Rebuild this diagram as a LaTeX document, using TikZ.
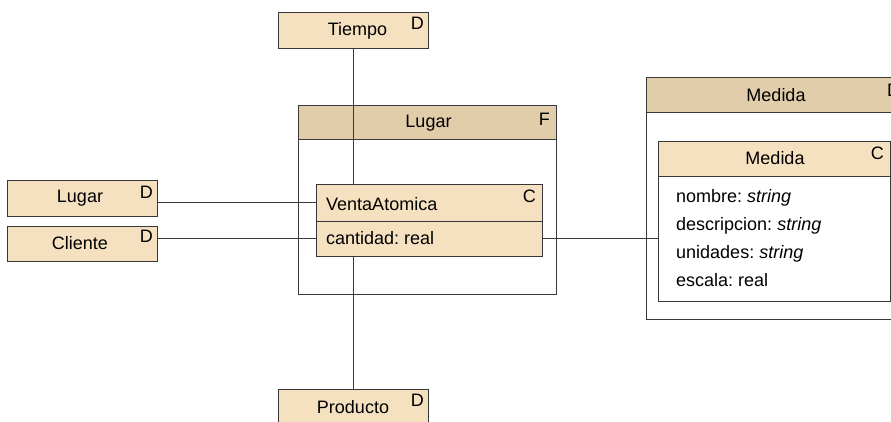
\documentclass[tikz,border=0pt]{standalone}
\usepackage{fontspec}
\setmainfont{Liberation Sans}
\frenchspacing
\definecolor{tanl}{HTML}{F5E1C0}
\definecolor{tand}{HTML}{E1CDAA}
\definecolor{linec}{HTML}{383838}
\tikzset{
  box/.style={draw=linec, line width=1pt, rectangle, inner sep=0pt, outer sep=0pt, anchor=north west},
  light/.style={box, fill=tanl},
  dark/.style={box, fill=tand},
  plain/.style={box, fill=white},
  lbl/.style={inner sep=0pt, text=black},
  tag/.style={inner sep=0pt, anchor=north east, text=black},
  conn/.style={draw=linec, line width=1pt}
}
\begin{document}
\begin{tikzpicture}[x=1pt,y=-1pt, font=\fontsize{18}{21}\selectfont]
\useasboundingbox (0,0) rectangle (891,421);
% fact container Lugar F
\node[plain, minimum width=258, minimum height=189] (lugarF) at (298,105) {};
\node[dark, minimum width=258, minimum height=34] (lugarFh) at (298,105) {};
\node[lbl] (lugarFt) at (428.5,123.5) {Lugar};
\node[tag] (lugarFtag) at ([xshift=-6,yshift=-8]lugarFh.north east) {F};
% Medida container
\node[plain, minimum width=254, minimum height=242] (medO) at (646,77) {};
\node[dark, minimum width=254, minimum height=35] (medOh) at (646,77) {};
\node[lbl] (medOt) at (776,95) {Medida};
\node[lbl, anchor=north west] (medOtag) at (887,84) {D};
% inner Medida class
\node[plain, minimum width=232, minimum height=160] (medI) at (658,141) {};
\node[light, minimum width=232, minimum height=35] (medIh) at (658,141) {};
\node[lbl] (medIt) at (775,158.5) {Medida};
\node[tag] (medItag) at ([xshift=-6,yshift=-6]medIh.north east) {C};
\node[lbl, anchor=base west] (a1) at (676,202) {nombre: \textit{string}};
\node[lbl, anchor=base west] (a2) at (676,230) {descripcion: \textit{string}};
\node[lbl, anchor=base west] (a3) at (676,258.5) {unidades: \textit{string}};
\node[lbl, anchor=base west] (a4) at (676,286.5) {escala: real};
% dimension boxes
\node[light, minimum width=150, minimum height=36] (tiempo) at (278,12) {};
\node[lbl] (tiempot) at (357.5,30.5) {Tiempo};
\node[tag] (tiempotag) at ([xshift=-4,yshift=-5]tiempo.north east) {D};
\node[light, minimum width=150, minimum height=40] (producto) at (278,389) {};
\node[lbl] (productot) at (353,407.5) {Producto};
\node[tag] (productotag) at ([xshift=-4,yshift=-5]producto.north east) {D};
\node[light, minimum width=150, minimum height=36] (lugarL) at (7,180) {};
\node[lbl] (lugarLt) at (80,198.5) {Lugar};
\node[tag] (lugarLtag) at ([xshift=-4,yshift=-6]lugarL.north east) {D};
\node[light, minimum width=150, minimum height=35] (cliente) at (7,226) {};
\node[lbl] (clientet) at (80,243.5) {Cliente};
\node[tag] (clientetag) at ([xshift=-4,yshift=-4]cliente.north east) {D};
% vertical connector (behind VentaAtomica)
\draw[conn] (tiempo.south) -- (producto.north);
% VentaAtomica
\node[light, minimum width=226, minimum height=37] (vhead) at (316,184) {};
\node[light, minimum width=226, minimum height=35] (vattr) at (316,221) {};
\node[lbl, anchor=base west] (vheadt) at (326,210) {VentaAtomica};
\node[tag] (vtag) at ([xshift=-6,yshift=-6]vhead.north east) {C};
\node[lbl, anchor=base west] (vattrt) at (326,244.5) {cantidad: real};
% connectors
\draw[conn] (lugarL.east |- vhead.west) -- (vhead.west);
\draw[conn] (cliente.east |- vattr.west) -- (vattr.west);
\draw[conn] (vattr.east) -- (vattr.east -| medI.west);
\end{tikzpicture}
\end{document}
